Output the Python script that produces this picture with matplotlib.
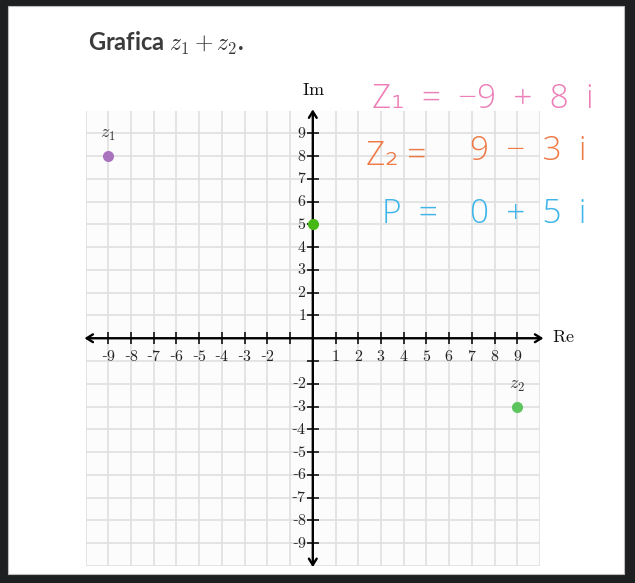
import matplotlib
matplotlib.use("Agg")
import matplotlib.pyplot as plt
from matplotlib.patches import Rectangle

plt.rcParams['mathtext.fontset'] = 'cm'

# ---- data ----
point_re = [-9, 0, 9]
point_im = [8, 5, -3]
point_labels = [r'$z_1$', '', r'$z_2$']
point_colors = ['#a974bd', '#46b814', '#5ec45e']

x_ticks = [v for v in range(-9, 10) if v != 0]
y_ticks = [v for v in range(-9, 10) if v != 0]
x_tick_labels = [str(v) for v in x_ticks]
y_tick_labels = [str(v) for v in y_ticks]
hidden_labels = [-1]

title_text = r'Grafica $z_1 + z_2$.'
notes = [
    ('Z\u2081  =  \u22129  +  8  i', '#ec7fb8'),
    ('Z\u2082 =', '9  \u2212  3  i', '#ee7a46'),
    ('P  =', '0  +  5  i', '#3fb5ea'),
]

W, H = 635, 583
fig = plt.figure(figsize=(W / 100, H / 100), dpi=100)
fig.patch.set_facecolor('#1e1f20')


def fx(x):
    return x / W


def fy(y):
    return 1 - y / H


fig.patches.append(Rectangle((fx(8), fy(574)), (624 - 8) / W, (574 - 6) / H,
                             transform=fig.transFigure, facecolor='white',
                             edgecolor='#bdbdbd', lw=0.8, zorder=-5))

ax = fig.add_axes([85.6 / W, 1 - 566 / H, 454.4 / W, 455.5 / H])
ax.set_zorder(2)
ax.set_xlim(-10, 10)
ax.set_ylim(-10, 10)
ax.set_facecolor('#fcfcfc')
for s in ax.spines.values():
    s.set_visible(False)
ax.set_xticks([])
ax.set_yticks([])

# grid
for v in range(-10, 11):
    ax.axvline(v, color='#e0e0e0', lw=1.2, zorder=1)
    ax.axhline(v, color='#e0e0e0', lw=1.2, zorder=1)

# axes with arrows
ax.annotate('', xy=(10.15, 0), xytext=(-10.05, 0),
            arrowprops=dict(arrowstyle='<->,head_length=0.45,head_width=0.28',
                            lw=1.7, color='black', shrinkA=0, shrinkB=0),
            annotation_clip=False, zorder=3)
ax.annotate('', xy=(0, 10.05), xytext=(0, -10.05),
            arrowprops=dict(arrowstyle='<->,head_length=0.45,head_width=0.28',
                            lw=1.7, color='black', shrinkA=0, shrinkB=0),
            annotation_clip=False, zorder=3)

# tick marks
ax.plot(x_ticks, [0] * len(x_ticks), ls='none', marker='|', ms=8, mew=1.1,
        color='black', zorder=3)
ax.plot([0] * len(y_ticks), y_ticks, ls='none', marker='_', ms=8, mew=1.1,
        color='black', zorder=3)


def num_label(s):
    if s.startswith('-'):
        return '-' + r'$' + s[1:] + r'$'
    return r'$' + s + r'$'


for v, lab in zip(x_ticks, x_tick_labels):
    if v in hidden_labels:
        continue
    ax.text(v, -0.82, num_label(lab), ha='center', va='center', fontsize=11.5,
            family='DejaVu Serif', color='#222222', zorder=4)
for v, lab in zip(y_ticks, y_tick_labels):
    if v in hidden_labels:
        continue
    ax.text(-0.28, v, num_label(lab), ha='right', va='center', fontsize=11.5,
            family='DejaVu Serif', color='#222222', zorder=4)

ax.text(10.55, 0.05, r'$\mathrm{Re}$', ha='left', va='center', fontsize=13,
        color='#111111', clip_on=False)
ax.text(0.05, 10.9, r'$\mathrm{Im}$', ha='center', va='center', fontsize=13,
        color='#111111', clip_on=False)

# points
for x, y, lab, c in zip(point_re, point_im, point_labels, point_colors):
    ax.plot([x], [y], 'o', ms=8, color=c, mec='none', zorder=5, clip_on=False)
    if lab:
        ax.text(x, y + 0.95, lab, ha='center', va='center', fontsize=13,
                color='#333333', zorder=5)

# title
fig.text(fx(88), fy(43), title_text, ha='left', va='center', fontsize=17,
         family='Lato', weight='bold', color='#3b3b3b')

# handwritten notes
hand = ['Open Sans', 'DejaVu Sans']
fs = 24
fig.text(fx(372), fy(99), notes[0][0], ha='left', va='center', fontsize=fs,
         family=hand, weight='light', color=notes[0][1])
fig.text(fx(366), fy(156), notes[1][0], ha='left', va='center', fontsize=fs,
         family=hand, weight='light', color=notes[1][2])
fig.text(fx(470), fy(151), notes[1][1], ha='left', va='center', fontsize=fs,
         family=hand, weight='light', color=notes[1][2])
fig.text(fx(382), fy(214), notes[2][0], ha='left', va='center', fontsize=fs,
         family=hand, weight='light', color=notes[2][2])
fig.text(fx(470), fy(214), notes[2][1], ha='left', va='center', fontsize=fs,
         family=hand, weight='light', color=notes[2][2])

fig.savefig('out.png', dpi=100, facecolor=fig.get_facecolor())
